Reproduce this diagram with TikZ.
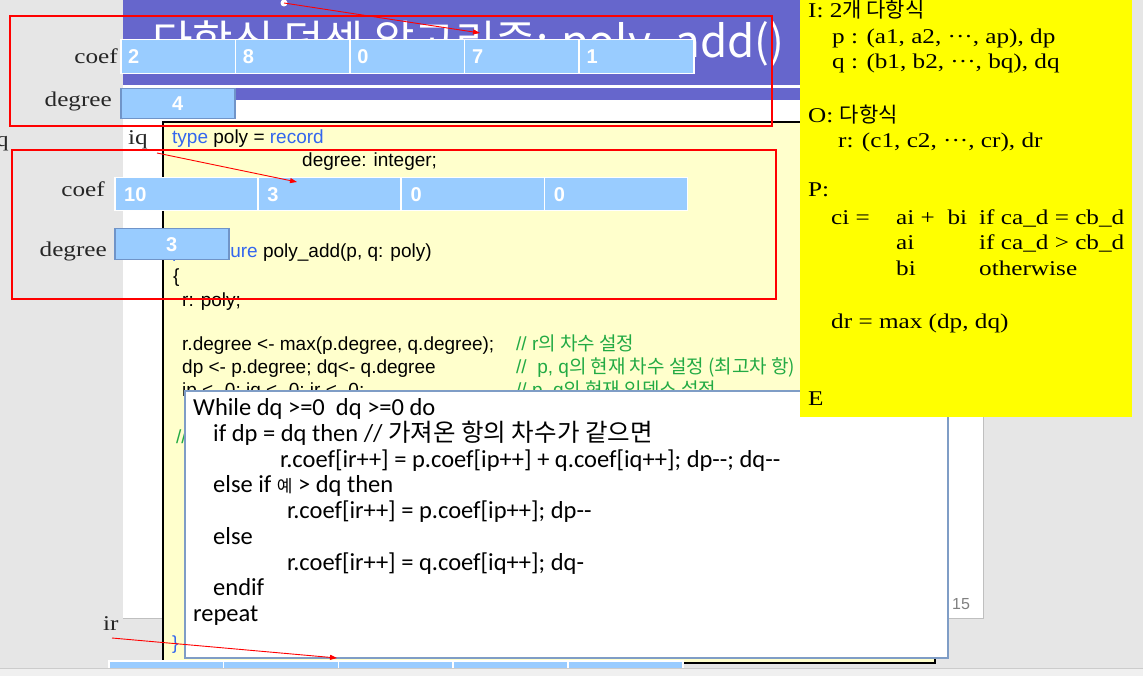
\documentclass[tikz,border=0pt]{standalone}
\usepackage{fontspec}
\usetikzlibrary{arrows.meta,positioning,calc}
\newfontfamily\ser{Liberation Serif}[FakeStretch=1.2]
\newfontfamily\arl{Liberation Sans}
\newfontfamily\pseudofont{Carlito}
\newfontfamily\kr{Noto Sans CJK KR}
\newcommand{\ko}[1]{{\kr #1}}
\definecolor{wingray}{HTML}{E6E6E6}
\definecolor{statusgray}{HTML}{F0F0F0}
\definecolor{slidepurple}{HTML}{6666CC}
\definecolor{codebg}{HTML}{FFFFCC}
\definecolor{cellblue}{HTML}{99CCFF}
\definecolor{boxedge}{HTML}{7094C8}
\definecolor{popedge}{HTML}{7F9DC6}
\definecolor{kwblue}{HTML}{3366EE}
\definecolor{cmtgreen}{HTML}{22AA44}
\definecolor{notey}{HTML}{FFFF00}
\tikzset{
    every node/.style={inner sep=0pt},
    codeline/.style={anchor=base west, font=\arl\fontsize{19}{23}\selectfont},
    comment/.style={codeline, text=cmtgreen},
    pseudoline/.style={anchor=base west, font=\pseudofont\fontsize{24.5}{26}\selectfont},
    noteline/.style={anchor=base west, font=\ser\fontsize{21}{25}\selectfont},
    varlabel/.style={font=\ser\fontsize{21}{25}\selectfont, text=black!85},
    cell/.style={rectangle, draw=white, line width=1.5pt, fill=cellblue, anchor=north west},
    cellval/.style={anchor=west, text=white, font=\arl\bfseries\fontsize{20}{22}\selectfont},
    degbox/.style={rectangle, draw=boxedge, line width=1.5pt, fill=cellblue, anchor=north west, minimum width=114pt, text=white, font=\arl\bfseries\fontsize{20}{22}\selectfont},
    markbox/.style={draw=red, line width=2.2pt},
    pointer/.style={red, line width=0.9pt, -{Triangle[length=7pt,width=5pt]}},
}
\begin{document}
\begin{tikzpicture}[x=1pt, y=-1pt]
    \useasboundingbox (0,0) rectangle (1143,676);
    % window and slide
    \fill[wingray] (0,0) rectangle (1143,676);
    \fill[white] (123,0) rectangle (983,618);
    \draw[black!25] (983,0) -- (983,618) -- (123,618);
    \fill[slidepurple] (123,0) rectangle (983,100);
    \fill[white] (123,85) rectangle (983,88.5);
    \node[anchor=base west, text=white, font=\kr\fontsize{44}{50}\selectfont] (title) at (152,58) {다항식 덧셈 알고리즘: poly\_add()};
    \node[anchor=base west, text=black!50, font=\arl\fontsize{16}{18}\selectfont] (pageno) at (952,609) {15};

    % code on the slide
    \draw[black, line width=2.5pt, fill=codebg] (163,122) rectangle (935,663);
    \node[codeline] (c1) at (172,144) {\textcolor{kwblue}{type} poly = \textcolor{kwblue}{record}};
    \node[codeline] (c2) at (302,167) {degree: integer;};
    \node[codeline] (c3) at (172,258) {\textcolor{kwblue}{procedure} poly\_add(p, q: poly)};
    \node[codeline] (c4) at (173,283) {\{};
    \node[codeline] (c5) at (182,306) {r: poly;};
    \node[codeline] (c6) at (182,350) {r.degree <- max(p.degree, q.degree);};
    \node[codeline] (c7) at (182,373) {dp <- p.degree; dq<- q.degree};
    \node[codeline] (c8) at (182,396) {ip <- 0; iq <- 0; ir <- 0;};
    \node[comment] (m1) at (516,350) {// r\ko{의 차수 설정}};
    \node[comment] (m2) at (516,373) {//\ \ p, q\ko{의 현재 차수 설정 (최고차 항)}};
    \node[comment] (m3) at (516,396) {// p, q\ko{의 현재 인덱스 설정}};
    \node[comment] (m4) at (176,443) {//};
    \node[codeline, text=kwblue] (c9) at (172,649) {\}};

    % pseudocode popup
    \draw[popedge, line width=2.5pt, fill=white] (185,391) rectangle (948,658);
    \node[pseudoline] (s1) at (193,415) {While dq >=0\ \ dq >=0 do};
    \node[pseudoline] (s2) at (213,441) {if dp = dq then // \ko{가져온 항의 차수가 같으면}};
    \node[pseudoline] (s3) at (280,467) {r.coef[ir++] = p.coef[ip++] + q.coef[iq++]; dp-{}-; dq-{}-};
    \node[pseudoline] (s4) at (213,492) {else if \ko{\fontsize{17}{20}\selectfont 예} > dq then};
    \node[pseudoline] (s5) at (287,518) {r.coef[ir++] = p.coef[ip++]; dp-{}-};
    \node[pseudoline] (s6) at (213,544) {else};
    \node[pseudoline] (s7) at (287,570) {r.coef[ir++] = q.coef[iq++]; dq-};
    \node[pseudoline] (s8) at (213,595) {endif};
    \node[pseudoline] (s9) at (193,621) {repeat};

    % IOPE note
    \fill[notey] (800,0) rectangle (1132,417);
    \node[noteline] (n1) at (808,18) {I: 2\ko{개 다항식}};
    \node[noteline] (n2) at (832,44) {p : (a1, a2, ···, ap), dp};
    \node[noteline] (n3) at (832,69) {q : (b1, b2, ···, bq), dq};
    \node[noteline] (n4) at (808,123) {O: \ko{다항식}};
    \node[noteline] (n5) at (838,148) {r: (c1, c2, ···, cr), dr};
    \node[noteline] (n6) at (808,197) {P:};
    \node[noteline] (n7) at (831,225) {ci =};
    \node[noteline] (n8) at (896,225) {ai +\ \ bi};
    \node[noteline] (n9) at (979,225) {if ca\_d = cb\_d};
    \node[noteline] (n10) at (896,250) {ai};
    \node[noteline] (n11) at (979,250) {if ca\_d > cb\_d};
    \node[noteline] (n12) at (896,276) {bi};
    \node[noteline] (n13) at (979,276) {otherwise};
    \node[noteline] (n14) at (831,328) {dr = max (dp, dq)};
    \node[noteline] (n15) at (808,405) {E};

    % marked regions
    \draw[markbox] (10,16) rectangle (772,126);
    \draw[markbox] (12,150) rectangle (776,299);

    % polynomial p
    \foreach \v [count=\i] in {2,8,0,7,1} {
        \node[cell, minimum width=114.6pt, minimum height=34pt] (pc\i) at ({120+(\i-1)*114.6},39) {};
        \node[cellval] (pv\i) at ([xshift=8pt]pc\i.west) {\v};
    }
    \node[degbox, minimum height=30pt] (pdeg) at (120,88) {4};
    \node[varlabel, anchor=base east] (pcoef) at (118,64) {coef};
    \node[varlabel, anchor=base east] (pdegree) at (112,107) {degree};

    % polynomial q
    \foreach \v [count=\i] in {10,3,0,0} {
        \node[cell, minimum width=143.2pt, minimum height=33pt] (qc\i) at ({114+(\i-1)*143.2},177) {};
        \node[cellval] (qv\i) at ([xshift=10pt]qc\i.west) {\v};
    }
    \node[degbox, minimum height=31pt] (qdeg) at (114,228) {3};
    \node[varlabel, anchor=base west] (qname) at (-4,147) {q};
    \node[varlabel, anchor=base east] (qcoef) at (105,197) {coef};
    \node[varlabel, anchor=base east] (qdegree) at (107,257) {degree};

    % result r (cut off at the bottom)
    \foreach \i in {1,...,5}
        \node[cell, minimum width=114.8pt, minimum height=30pt] (rc\i) at ({108+(\i-1)*114.8},660) {};

    % index pointers
    \node[varlabel, anchor=base west] (iq) at (128,145) {iq};
    \node[varlabel, anchor=base west] (ir) at (103,630) {ir};
    \coordinate (ipfrom) at (284,3);
    \coordinate (ipto) at (480,33);
    \coordinate (iqfrom) at (157,153);
    \coordinate (iqto) at (297,182);
    \coordinate (irfrom) at (112,638);
    \coordinate (irto) at (337,658);
    \fill[white] (ipfrom) circle (3.5);
    \draw[pointer] (ipfrom) -- (ipto);
    \draw[pointer] (iqfrom) -- (iqto);
    \draw[pointer] (irfrom) -- (irto);

    % status bar
    \fill[statusgray] (0,668) rectangle (1143,676);
    \draw[black!20] (0,668) -- (1143,668);
\end{tikzpicture}
\end{document}
